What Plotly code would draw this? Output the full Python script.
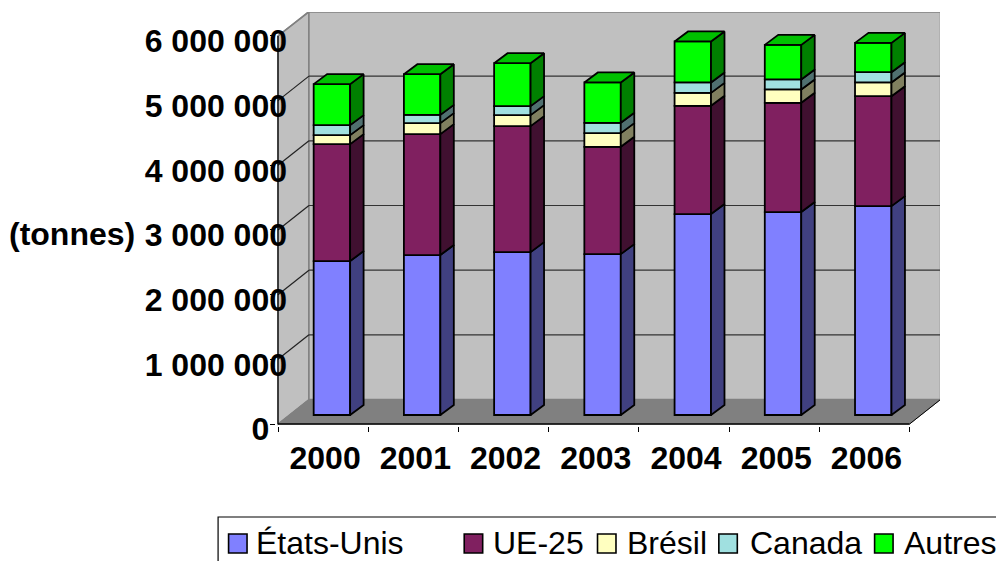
import plotly.graph_objects as go

YEARS = ["2000", "2001", "2002", "2003", "2004", "2005", "2006"]
SERIES = ["États-Unis", "UE-25", "Brésil", "Canada", "Autres"]
ETATS_UNIS = [2380000, 2473000, 2519000, 2488000, 3107000, 3138000, 3230000]
UE_25 = [1809000, 1870000, 1948000, 1659000, 1674000, 1689000, 1700000]
BRESIL = [139000, 170000, 170000, 212000, 200000, 207000, 212000]
CANADA = [154000, 128000, 139000, 159000, 161000, 155000, 159000]
AUTRES = [634000, 629000, 664000, 624000, 634000, 534000, 453000]
VALUES = [ETATS_UNIS, UE_25, BRESIL, CANADA, AUTRES]
Y_TICKS = [0, 1000000, 2000000, 3000000, 4000000, 5000000, 6000000]
Y_LABELS = ["0\u00a0\u00a0", "1 000 000", "2 000 000", "3 000 000", "4 000 000", "5 000 000", "6 000 000"]

FRONT = ["#8080FF", "#802060", "#FFFFC0", "#A0E0E0", "#00FF00"]
SIDE = ["#404080", "#401030", "#808060", "#507070", "#008000"]
TOP_FACE = "#00C000"
FONT = "Liberation Sans"

# geometry in axis units
W, H = 996, 561
X_L, X_R, Y_B, Y_T = 275.5, 940.5, 426, 12
PX_X, PX_Y = 90.36, 64.67 / 1e6
ORIGIN_X = 277.5
x_of = lambda px: (px - ORIGIN_X) / PX_X - 0.5
y_of = lambda px: (424 - px) / PX_Y
XR = [x_of(X_L), x_of(X_R)]
YR = [y_of(Y_B), y_of(Y_T)]
WALL_DX, WALL_DY = 31 / PX_X, 24.5 / PX_Y
BAR_SHIFT_X, BAR_LIFT = 8.8 / PX_X, 9 / PX_Y
BAR_W = 36.5 / PX_X
BAR_DX, BAR_DY = 13.5 / PX_X, 10 / PX_Y
Y_MAX = 6000000
X0, X1 = -0.5, 6.5

fig = go.Figure()
shapes = []


def poly(xs, ys, fill, line="#808080", width=1.5):
    path = "M " + " L ".join(f"{x},{y}" for x, y in zip(xs, ys)) + " Z"
    shapes.append(dict(type="path", path=path, xref="x", yref="y", layer="below",
                       fillcolor=fill, line=dict(color=line, width=width)))


def seg(x0, y0, x1, y1, color, width=1.2):
    shapes.append(dict(type="line", x0=x0, y0=y0, x1=x1, y1=y1, xref="x", yref="y",
                       layer="below", line=dict(color=color, width=width)))


top = y_of(12)
poly([X0, X0 + WALL_DX, X0 + WALL_DX, X0], [0, WALL_DY, top, Y_MAX], "#C0C0C0")
poly([X0 + WALL_DX, X1 + WALL_DX, X1 + WALL_DX, X0 + WALL_DX], [WALL_DY, WALL_DY, top, top], "#C0C0C0")
poly([X0, X1, X1 + WALL_DX, X0 + WALL_DX], [0, 0, WALL_DY, WALL_DY], "#808080", "#808080", 1)
for v in Y_TICKS[1:-1]:
    seg(X0, v, X0 + WALL_DX, v + WALL_DY, "#222222")
    seg(X0 + WALL_DX, v + WALL_DY, X1 + WALL_DX, v + WALL_DY, "#333333")
seg(X0, Y_MAX, X0 + WALL_DX, Y_MAX + WALL_DY, "#808080", 1.5)
seg(X0, 0, X0, Y_MAX, "#000000", 1.2)
seg(X0, 0, X1, 0, "#000000", 1.6)
seg(X1, 0, X1 + WALL_DX, WALL_DY, "#000000", 1)

positions = [i + BAR_SHIFT_X for i in range(len(YEARS))]
base = [BAR_LIFT] * len(YEARS)
for name, vals, front, side in zip(SERIES, VALUES, FRONT, SIDE):
    fig.add_bar(x=positions, y=vals, base=list(base), width=BAR_W, name=name,
                marker=dict(color=front, line=dict(color="#000000", width=1.8)),
                showlegend=False)
    sx, sy = [], []
    for p, b, v in zip(positions, base, vals):
        r = p + BAR_W / 2
        sx += [r, r + BAR_DX, r + BAR_DX, r, r, None]
        sy += [b, b + BAR_DY, b + v + BAR_DY, b + v, b, None]
    fig.add_scatter(x=sx, y=sy, mode="lines", fill="toself", fillcolor=side,
                    line=dict(color="#000000", width=1.8), hoverinfo="skip", showlegend=False)
    base = [b + v for b, v in zip(base, vals)]

tx, ty = [], []
for p, b in zip(positions, base):
    l, r = p - BAR_W / 2, p + BAR_W / 2
    tx += [l, r, r + BAR_DX, l + BAR_DX, l, None]
    ty += [b, b, b + BAR_DY, b + BAR_DY, b, None]
fig.add_scatter(x=tx, y=ty, mode="lines", fill="toself", fillcolor=TOP_FACE,
                line=dict(color="#000000", width=1.8), hoverinfo="skip", showlegend=False)

# legend
paper = dict(xref="paper", yref="paper")
shapes.append(dict(type="rect", x0=(217.5 - X_L) / (X_R - X_L), x1=1.2,
                   y0=(Y_B - 575) / (Y_B - Y_T), y1=(Y_B - 517) / (Y_B - Y_T), **paper,
                   line=dict(color="#000000", width=1.2), fillcolor="white", layer="above"))
SWATCH_X = [228, 464, 597.5, 719, 875]
TEXT_X = [255, 493, 627, 750, 904]
ann = []
for name, color, sx, tx_ in zip(SERIES, FRONT, SWATCH_X, TEXT_X):
    shapes.append(dict(type="rect", x0=(sx - X_L) / (X_R - X_L), x1=(sx + 18.5 - X_L) / (X_R - X_L),
                       y0=(Y_B - 553) / (Y_B - Y_T), y1=(Y_B - 534) / (Y_B - Y_T), **paper,
                       fillcolor=color, line=dict(color="#000000", width=1.6), layer="above"))
    ann.append(dict(x=(tx_ - X_L) / (X_R - X_L), y=(Y_B - 543) / (Y_B - Y_T), text=name, showarrow=False,
                    xanchor="left", yanchor="middle", xshift=-2, **paper,
                    font=dict(family=FONT, size=32, color="#000000")))
ann.append(dict(x=(8 - X_L) / (X_R - X_L), y=(Y_B - 234) / (Y_B - Y_T), text="(tonnes)", showarrow=False,
                xanchor="left", yanchor="middle", xshift=-2, **paper,
                font=dict(family=FONT, size=32, color="#000000", weight="bold")))

tickfont = dict(family=FONT, size=32, color="#000000", weight="bold")
fig.update_layout(
    width=W, height=H, autosize=False,
    margin=dict(l=X_L, r=W - X_R, t=Y_T, b=H - Y_B, pad=0),
    paper_bgcolor="white", plot_bgcolor="white", barmode="overlay",
    showlegend=False, shapes=shapes, annotations=ann,
    xaxis=dict(range=XR, tickmode="array", tickvals=list(range(len(YEARS))), ticktext=YEARS,
               showgrid=False, zeroline=False, showline=False, ticks="", tickfont=tickfont, automargin=False,
               ticklabelstandoff=10, ticklabelshift=2, tickangle=0,
               minor=dict(tickmode="array", tickvals=[i - 0.5 for i in range(len(YEARS) + 1)], ticks="outside", ticklen=5,
                          tickcolor="#000000", tickwidth=1, showgrid=False)),
    yaxis=dict(range=YR, tickmode="array", tickvals=Y_TICKS, ticktext=Y_LABELS,
               showgrid=False, zeroline=False, showline=False, ticks="", tickfont=tickfont, automargin=False,
               ticklabelstandoff=-12, ticklabelshift=5,
               minor=dict(tickmode="array", tickvals=Y_TICKS, ticks="outside", ticklen=5,
                          tickcolor="#000000", tickwidth=1, showgrid=False)),
)
fig.write_html("out.html", config=dict(displayModeBar=False),
               post_script="document.body.style.margin='0';")
